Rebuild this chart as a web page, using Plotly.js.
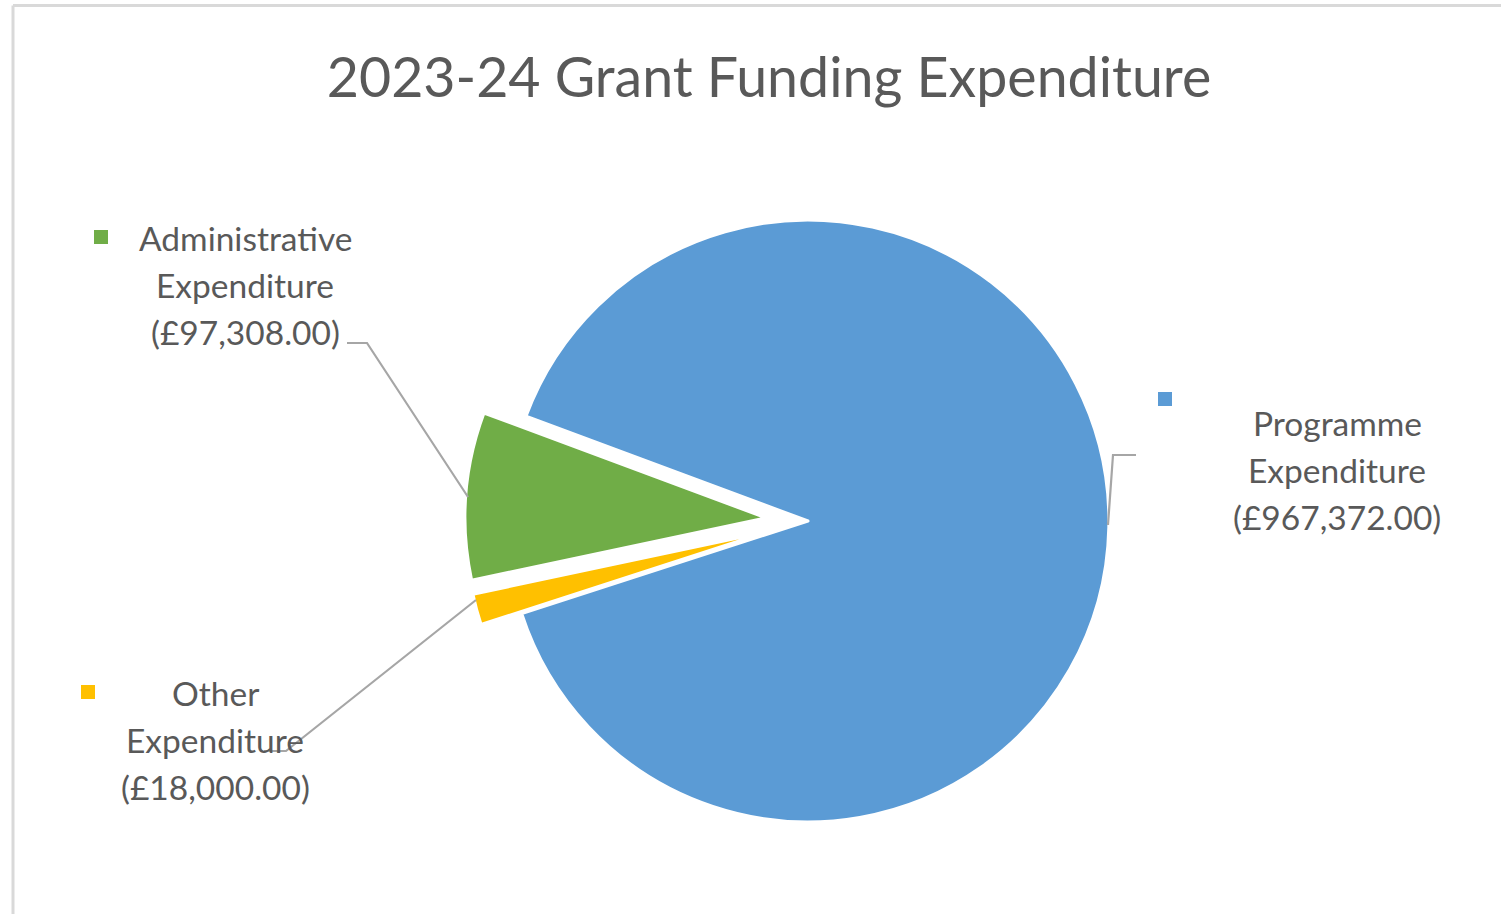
<!DOCTYPE html>
<html><head><meta charset="utf-8">
<script src="https://cdn.plot.ly/plotly-3.0.1.min.js"></script>
<style>html,body{margin:0;padding:0;background:#fff;}#chart{width:1501px;height:914px;}</style>
</head><body><div id="chart"></div>
<script>
// ---- data ----
const categories = ["Programme Expenditure", "Administrative Expenditure", "Other Expenditure"];
const amounts = [967372, 97308, 18000];
const chartTitle = "2023-24 Grant Funding Expenditure";

// ---- style / layout ----
const sliceColors = ["#5B9BD5", "#70AD47", "#FFC000"];
const pulls = [0, 0.14, 0.14];
const W = 1501, H = 914;
const FONT = "Lato, 'Open Sans', sans-serif";
const TXT = "#595959";
// label block placement in pixels: [centerX, firstLineY], legend key [x, y]
const labelPos = [[1337, 423], [245, 238], [215, 693]];
const keyPos = [[1165, 399], [101, 237], [88, 692]];
const lineGap = 47;
// leader lines in pixels
const leaders = [
  [[1108, 525], [1113, 455], [1136, 455]],
  [[468, 497], [367, 343], [347, 343]],
  [[476, 600], [286, 751], [264, 751]]
];

const px = x => x / W, py = y => 1 - y / H;
const fmt = v => "(£" + v.toLocaleString("en-GB", {minimumFractionDigits: 2, maximumFractionDigits: 2}) + ")";

const annotations = [];
categories.forEach((c, i) => {
  const words = c.split(" ");
  const lines = [words[0], words.slice(1).join(" "), fmt(amounts[i])];
  lines.forEach((t, k) => {
    annotations.push({
      text: t, showarrow: false, xref: "paper", yref: "paper",
      x: px(labelPos[i][0]), y: py(labelPos[i][1] + k * lineGap),
      xanchor: "center", yanchor: "middle",
      font: {family: FONT, size: 33.5, color: TXT}
    });
  });
});

const shapes = [];
categories.forEach((c, i) => {
  const [kx, ky] = keyPos[i];
  shapes.push({type: "rect", xref: "paper", yref: "paper",
    x0: px(kx - 7), x1: px(kx + 7), y0: py(ky + 7), y1: py(ky - 7),
    fillcolor: sliceColors[i], line: {width: 0}});
  const pts = leaders[i];
  const path = pts.map((p, k) => (k ? "L" : "M") + px(p[0]) + "," + py(p[1])).join(" ");
  shapes.push({type: "path", xref: "paper", yref: "paper", path: path,
    line: {color: "#A6A6A6", width: 2.2}});
});
// chart frame (top and left edge visible)
shapes.push({type: "line", xref: "paper", yref: "paper", x0: px(13), x1: 1, y0: py(5.5), y1: py(5.5), line: {color: "#D9D9D9", width: 3}});
shapes.push({type: "line", xref: "paper", yref: "paper", x0: px(13), x1: px(13), y0: py(5.5), y1: 0, line: {color: "#D9D9D9", width: 3}});

const cx = 808, cy = 521, rOuter = 343;
const trace = {
  type: "pie",
  labels: categories,
  values: amounts,
  sort: false,
  direction: "counterclockwise",
  rotation: -69.6,
  pull: pulls,
  marker: {colors: sliceColors, line: {color: "#FFFFFF", width: 3}},
  textinfo: "none",
  hoverinfo: "skip",
  showlegend: false,
  domain: {x: [px(cx - rOuter), px(cx + rOuter)], y: [py(cy + rOuter), py(cy - rOuter)]}
};

const layout = {
  width: W, height: H,
  margin: {l: 0, r: 0, t: 0, b: 0},
  paper_bgcolor: "#FFFFFF",
  showlegend: false,
  title: {text: chartTitle, x: px(769), xanchor: "center", y: py(78), yanchor: "middle",
    font: {family: FONT, size: 55.5, color: TXT}},
  annotations: annotations,
  shapes: shapes
};

Plotly.newPlot("chart", [trace], layout, {staticPlot: true, displayModeBar: false});
</script></body></html>
